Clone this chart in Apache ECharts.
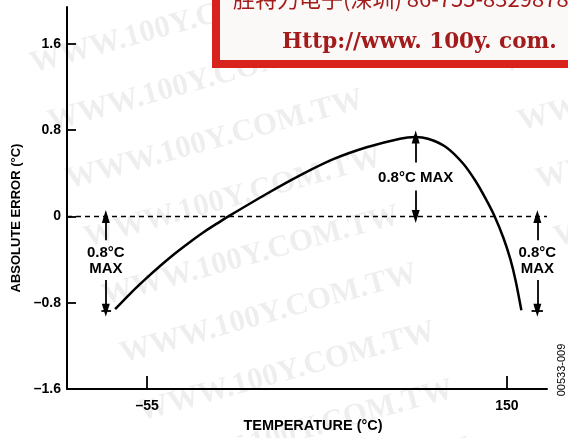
<!DOCTYPE html>
<html><head><meta charset="utf-8">
<script src="https://cdn.jsdelivr.net/npm/echarts@6/dist/echarts.min.js"></script>
<style>html,body{margin:0;padding:0;background:#fff}#c{width:568px;height:438px}</style>
</head><body><div id="c"></div>
<script>
// ---- data ----
const temperature = [-73.2, -64.7, -56.1, -47.6, -39.1, -30.5, -22.0, -13.4, -8.7, 13.2, 32.1, 51.1, 70.1, 89.1, 97.6, 105, 115, 125, 132, 138, 143, 148, 152, 155, 158.2];
const absError    = [-0.86, -0.717, -0.584, -0.46, -0.344, -0.237, -0.138, -0.048, 0.0, 0.21, 0.38, 0.53, 0.64, 0.72, 0.735, 0.72, 0.645, 0.49, 0.33, 0.16, 0.0, -0.20, -0.40, -0.60, -0.87];
const xTicks = [-55, 150];
const yTicks = [-1.6, -0.8, 0, 0.8, 1.6];
// annotation arrows (x position, arrow from -> to), label positions, caps
const annX = [-78.5, 98, 167.3];
const annUp = [[-0.22, 0], [0.5, 0.735], [-0.22, 0]];
const annDown = [[-0.59, -0.87], [0.24, 0], [-0.59, -0.87]];
const annLabelY = [-0.415, 0.357, -0.415];
const annLabel = ['0.8°C\nMAX', '0.8°C MAX', '0.8°C\nMAX'];
const capX = [[-81, -75.5], [164, 170.5]];
const capY = -0.87;

const FONT = '"Liberation Sans", Arial, sans-serif';
const dash = v => String(v).replace('-', '\u2013');

const chart = echarts.init(document.getElementById('c'), null, {renderer: 'canvas'});

const markData = [];
annX.forEach((x, i) => {
  markData.push([{coord: [x, annUp[i][0]], symbol: 'none'}, {coord: [x, annUp[i][1]], symbol: 'triangle'}]);
  markData.push([{coord: [x, annDown[i][0]], symbol: 'none'}, {coord: [x, annDown[i][1]], symbol: 'triangle'}]);
});
capX.forEach(c => {
  markData.push([{coord: [c[0], capY], symbol: 'none'}, {coord: [c[1], capY], symbol: 'none'}]);
});

chart.setOption({
  animation: false,
  backgroundColor: '#fff',
  grid: {left: 67, right: 21, top: 7, bottom: 48},
  xAxis: {
    type: 'value', min: -100.6, max: 172.8,
    name: 'TEMPERATURE (°C)', nameLocation: 'middle', nameGap: 17,
    nameTextStyle: {fontFamily: FONT, fontWeight: 'bold', fontSize: 14.5, color: '#000', padding: [0, 0, 0, 12]},
    axisLine: {onZero: false, lineStyle: {color: '#000', width: 2}},
    axisTick: {inside: true, length: 13, lineStyle: {color: '#000', width: 1.8}, customValues: xTicks},
    axisLabel: {customValues: xTicks, formatter: dash, fontFamily: FONT, fontWeight: 'bold', fontSize: 14, color: '#000', margin: 10},
    splitLine: {show: false}
  },
  yAxis: {
    type: 'value', min: -1.6, max: 1.94, interval: 0.8,
    name: 'ABSOLUTE ERROR (°C)', nameLocation: 'middle', nameGap: 44, nameRotate: 90,
    nameTextStyle: {fontFamily: FONT, fontWeight: 'bold', fontSize: 13, color: '#000', padding: [0, 40, 0, 0]},
    axisLine: {onZero: false, lineStyle: {color: '#000', width: 2}},
    axisTick: {inside: true, length: 9, lineStyle: {color: '#000', width: 1.8}, customValues: yTicks},
    axisLabel: {customValues: yTicks, formatter: dash, fontFamily: FONT, fontWeight: 'bold', fontSize: 14, color: '#000', margin: 6},
    splitLine: {show: false}
  },
  series: [{
    type: 'line',
    data: temperature.map((t, i) => [t, absError[i]]),
    smooth: 0.3,
    showSymbol: false,
    lineStyle: {color: '#000', width: 2.5},
    silent: true,
    z: 3,
    markLine: {
      silent: true, animation: false,
      symbol: 'none', symbolSize: [8, 13],
      label: {show: false},
      lineStyle: {color: '#000', width: 1.8, type: 'solid'},
      emphasis: {disabled: true},
      data: markData
    }
  }, {
    type: 'line', data: [], silent: true, z: 1,
    markLine: {
      silent: true, animation: false, symbol: 'none',
      label: {show: false},
      lineStyle: {color: '#000', width: 1.3, type: [5, 4]},
      emphasis: {disabled: true},
      data: [{yAxis: 0}]
    }
  }]
});

// ---- graphic overlays (positions via library scales) ----
const g = [];
// watermark tiles
for (let i = 0; i < 9; i++) {
  for (let j = 0; j < 2; j++) {
    g.push({type: 'text', x: 35 + i * 18 + j * 470, y: 80 + i * 58, rotation: 0.27, z: -5, silent: true,
      style: {text: 'WWW.100Y.COM.TW', font: 'bold 31px "Liberation Serif", serif', fill: 'rgba(0,0,0,0.065)', textVerticalAlign: 'bottom'}});
  }
}
// annotation labels
annX.forEach((x, i) => {
  const p = chart.convertToPixel({xAxisIndex: 0, yAxisIndex: 0}, [x, annLabelY[i]]);
  g.push({type: 'text', x: p[0], y: p[1], z: 10, silent: true,
    style: {text: annLabel[i], font: 'bold 15px ' + FONT, fill: '#000', textAlign: 'center', textVerticalAlign: 'middle', lineHeight: 16}});
});
// figure number
g.push({type: 'text', x: 562, y: 370, rotation: Math.PI / 2, z: 10, silent: true,
  style: {text: '00533-009', font: '11px ' + FONT, fill: '#000', textAlign: 'center', textVerticalAlign: 'middle'}});
// red box
g.push({type: 'rect', shape: {x: 216, y: -20, width: 420, height: 84}, z: 50, silent: true,
  style: {fill: '#fbf8f8', stroke: '#d8231c', lineWidth: 8}});
g.push({type: 'text', x: 233, y: -1, z: 51, silent: true,
  style: {text: '胜特力电子(深圳) 86-755-83298787', font: '22px "Noto Sans CJK SC", serif', fill: '#a31c1c', textVerticalAlign: 'middle'}});
g.push({type: 'text', x: 282, y: 42, z: 51, silent: true,
  style: {text: 'Http://www. 100y. com.', font: 'bold 21.5px "DejaVu Serif", serif', fill: '#a31c1c', textVerticalAlign: 'middle'}});

chart.setOption({graphic: g});
</script>
</body></html>
